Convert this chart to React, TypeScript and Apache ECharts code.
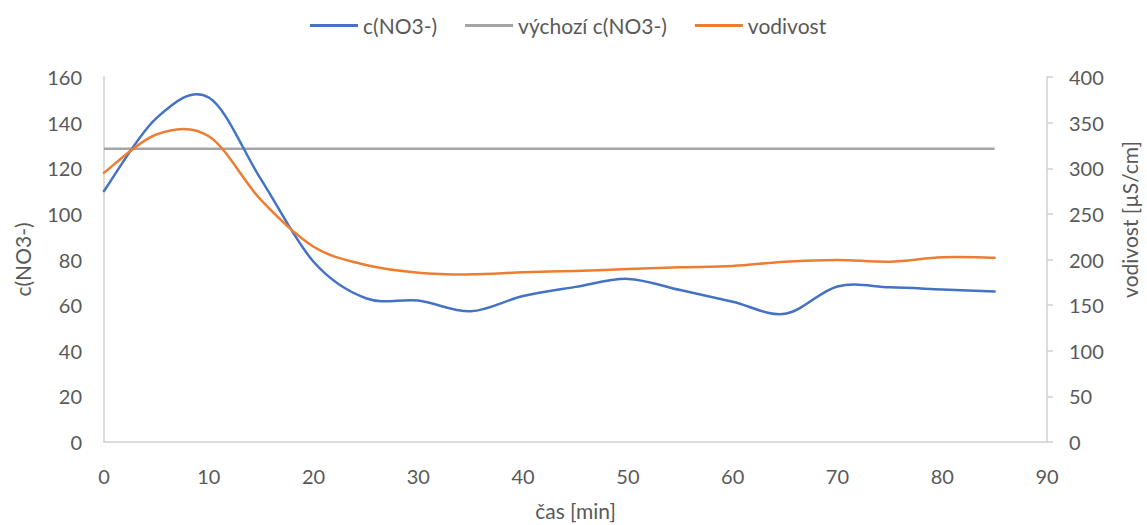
import React, { useEffect, useRef } from "react";
import * as echarts from "echarts";

const times = [0, 5, 10, 15, 20, 25, 30, 35, 40, 45, 50, 55, 60, 65, 70, 75, 80, 85];
const nitrate = [110, 142, 151, 115, 79, 63, 62, 57.3, 64, 68, 71.5, 66.6, 61.5, 56.2, 68.2, 67.8, 66.9, 66];
const baselineTimes = [0, 85];
const baseline = [128.5, 128.5];
const conductivity = [295, 337, 335, 265, 214, 194, 185.6, 183.7, 186, 187.4, 189.6, 191.4, 192.9, 197.6, 199.5, 197.6, 202.4, 202];

const xTicks = { min: 0, max: 90, interval: 10 };
const leftTicks = { min: 0, max: 160, interval: 20 };
const rightTicks = { min: 0, max: 400, interval: 50 };

const FONT = "Lato, 'Open Sans', sans-serif";
const TXT = "#595959";
const AXIS = "#D0D0D0";
const BLUE = "#4472C4";
const GRAY = "#A5A5A5";
const ORANGE = "#ED7D31";

// Excel-like smoothed curve (Catmull-Rom → cubic Bézier) through the points given by the axis scales
function smoothRender(color: string, data: number[][]) {
  return (params: any, api: any) => {
    if (params.dataIndex !== 0) return null;
    const pts = data.map((d) => api.coord(d));
    const n = pts.length;
    let d = `M${pts[0][0]},${pts[0][1]}`;
    for (let i = 0; i < n - 1; i++) {
      const p0 = pts[Math.max(i - 1, 0)];
      const p1 = pts[i];
      const p2 = pts[i + 1];
      const p3 = pts[Math.min(i + 2, n - 1)];
      const c1x = p1[0] + (p2[0] - p0[0]) / 6;
      const c1y = p1[1] + (p2[1] - p0[1]) / 6;
      const c2x = p2[0] - (p3[0] - p1[0]) / 6;
      const c2y = p2[1] - (p3[1] - p1[1]) / 6;
      d += ` C${c1x},${c1y} ${c2x},${c2y} ${p2[0]},${p2[1]}`;
    }
    return {
      type: "path",
      shape: { pathData: d },
      style: { fill: "none", stroke: color, lineWidth: 2.5, lineJoin: "round", lineCap: "round" },
    };
  };
}

export default function App() {
  const ref = useRef<HTMLDivElement>(null);
  useEffect(() => {
    if (!ref.current) return;
    const chart = echarts.init(ref.current, undefined, { renderer: "svg" });
    const nitrateData = times.map((t, i) => [t, nitrate[i]]);
    const condData = times.map((t, i) => [t, conductivity[i]]);
    const axisLabel = { fontFamily: FONT, fontSize: 20, color: TXT };
    chart.setOption({
      animation: false,
      textStyle: { fontFamily: FONT, color: TXT },
      legend: {
        top: 10,
        left: 305,
        itemWidth: 48,
        itemHeight: 3,
        itemGap: 28,
        textStyle: { fontFamily: FONT, fontSize: 21, color: TXT },
        data: [
          { name: "c(NO3-)", icon: "rect", itemStyle: { color: BLUE } },
          { name: "výchozí c(NO3-)", icon: "rect", itemStyle: { color: GRAY } },
          { name: "vodivost", icon: "rect", itemStyle: { color: ORANGE } },
        ],
      },
      grid: { left: 104, right: 100, top: 77, bottom: 83, outerBoundsMode: "none", containLabel: false },
      xAxis: {
        type: "value",
        ...xTicks,
        name: "čas [min]",
        nameLocation: "middle",
        nameGap: 58,
        nameTextStyle: { fontFamily: FONT, fontSize: 21, color: TXT },
        axisLine: { show: true, lineStyle: { color: AXIS, width: 1.5 } },
        axisTick: { show: false },
        splitLine: { show: false },
        axisLabel: { ...axisLabel, margin: 24 },
      },
      yAxis: [
        {
          type: "value",
          ...leftTicks,
          name: "c(NO3-)",
          nameLocation: "middle",
          nameGap: 71,
          nameRotate: 90,
          nameTextStyle: { fontFamily: FONT, fontSize: 21, color: TXT },
          axisLine: { show: true, lineStyle: { color: AXIS, width: 1.5 } },
          axisTick: { show: false },
          splitLine: { show: false },
          axisLabel: { ...axisLabel, margin: 22 },
        },
        {
          type: "value",
          ...rightTicks,
          position: "right",
          name: "vodivost [µS/cm]",
          nameLocation: "middle",
          nameGap: 72,
          nameRotate: 90,
          nameTextStyle: { fontFamily: FONT, fontSize: 21, color: TXT, padding: [0, 0, 0, 80] },
          axisLine: { show: true, lineStyle: { color: AXIS, width: 1.5 } },
          axisTick: { show: true, length: 6, lineStyle: { color: AXIS, width: 1.5 } },
          splitLine: { show: false },
          axisLabel: { ...axisLabel, margin: 22 },
        },
      ],
      series: [
        {
          name: "c(NO3-)",
          type: "custom",
          xAxisIndex: 0,
          yAxisIndex: 0,
          itemStyle: { color: BLUE },
          renderItem: smoothRender(BLUE, nitrateData),
          data: nitrateData,
          encode: { x: 0, y: 1 },
          z: 3,
        },
        {
          name: "výchozí c(NO3-)",
          type: "line",
          yAxisIndex: 0,
          showSymbol: false,
          symbol: "none",
          lineStyle: { color: GRAY, width: 2.5 },
          itemStyle: { color: GRAY },
          data: baselineTimes.map((t, i) => [t, baseline[i]]),
          z: 2,
        },
        {
          name: "vodivost",
          type: "custom",
          xAxisIndex: 0,
          yAxisIndex: 1,
          itemStyle: { color: ORANGE },
          renderItem: smoothRender(ORANGE, condData),
          data: condData,
          encode: { x: 0, y: 1 },
          z: 4,
        },
      ],
    });
    return () => chart.dispose();
  }, []);
  return (
    <div
      ref={ref}
      style={{ position: "absolute", left: 0, top: 0, width: 1147, height: 525 }}
    />
  );
}
